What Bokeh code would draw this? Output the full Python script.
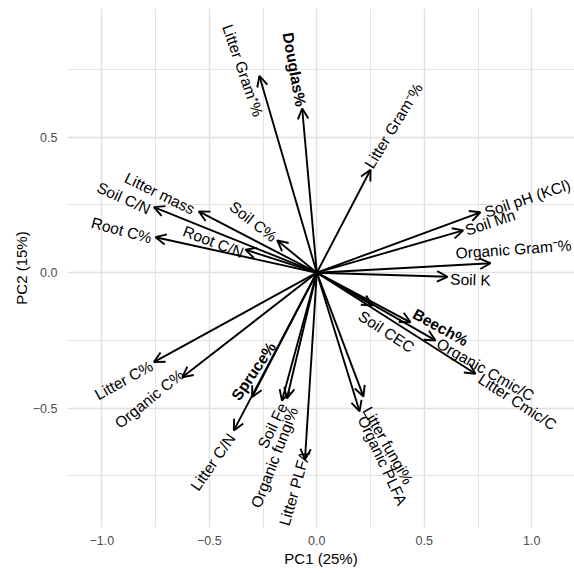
import numpy as np
from bokeh.plotting import figure
from bokeh.models import ColumnDataSource, Arrow, OpenHead, FixedTicker, CustomJSTickFormatter, Range1d
from bokeh.core.properties import value
from bokeh.embed import file_html
from bokeh.resources import INLINE

# ---------------- data (loadings) ----------------
variables = ["Litter Gram\u207a%", "Douglas%", "Litter Gram\u207b%", "Soil pH (KCl)", "Soil Mn",
             "Organic Gram\u207b%", "Soil K", "Litter mass", "Soil C/N", "Root C%", "Root C/N",
             "Soil C%", "Litter C%", "Organic C%", "Spruce%", "Litter C/N", "Soil Fe",
             "Organic fungi%", "Litter PLFA", "Litter fungi%", "Organic PLFA", "Soil CEC",
             "Beech%", "Organic Cmic/C", "Litter Cmic/C"]
pc1 = [-0.267, -0.068, 0.250, 0.761, 0.681, 0.808, 0.608, -0.549, -0.758, -0.750, -0.332,
       -0.184, -0.758, -0.626, -0.301, -0.386, -0.162, -0.139, -0.055, 0.217, 0.199, 0.259,
       0.436, 0.552, 0.738]
pc2 = [0.726, 0.606, 0.380, 0.223, 0.156, 0.035, -0.015, 0.226, 0.242, 0.131, 0.085,
       0.119, -0.330, -0.386, -0.459, -0.582, -0.472, -0.464, -0.689, -0.457, -0.512, -0.121,
       -0.183, -0.250, -0.373]
species = ["Douglas%", "Spruce%", "Beech%"]

x_ticks = [-1.0, -0.5, 0.0, 0.5, 1.0]
x_tick_labels = ["\u22121.0", "\u22120.5", "0.0", "0.5", "1.0"]
x_minor = [-0.75, -0.25, 0.25, 0.75]
y_ticks = [-0.5, 0.0, 0.5]
y_tick_labels = ["\u22120.5", "0.0", "0.5"]
y_minor = [-0.75, -0.25, 0.25, 0.75]
x_title = "PC1 (25%)"
y_title = "PC2 (15%)"

# ---------------- layout (label nudges in screen px, text angle in degrees) ----------------
label_layout = {
    "Litter Gram\u207a%": (-16.5, -5.5, -71),
    "Douglas%": (-7.7, -39, -80),
    "Litter Gram\u207b%": (23, -44, 58.5),
    "Soil pH (KCl)": (47, -14, 18.5),
    "Soil Mn": (27, -8, 18),
    "Organic Gram\u207b%": (23, -14, 4),
    "Soil K": (23, 3, -2),
    "Litter mass": (-39, -18, -26),
    "Soil C/N": (-30, -9, -24),
    "Root C%": (-34, -7, -15),
    "Root C/N": (-32, -8, -21),
    "Soil C%": (-24, -19, -38),
    "Litter C%": (-30, 18, 29),
    "Organic C%": (-33, 21.5, 39),
    "Spruce%": (1.5, -26, 56),
    "Litter C/N": (-21, 31.5, 55),
    "Soil Fe": (-9.5, 25, 64),
    "Organic fungi%": (-12.5, 59, 69),
    "Litter PLFA": (-10.5, 29, 74),
    "Litter fungi%": (24.5, 49, -60.5),
    "Organic PLFA": (23, 49, -65),
    "Soil CEC": (14, 26, -33),
    "Beech%": (30, 5, -29),
    "Organic Cmic/C": (50, 29, -30),
    "Litter Cmic/C": (42, 28, -33),
}

LEFT, TOP, BOTTOM = 67, 8, 46
FW, FH = 574 - LEFT, 519
PX_X, PX_Y = 215.0, 271.0
X0 = -(316.3 - LEFT) / PX_X
X1 = X0 + FW / PX_X
Y1 = (272.2 - TOP) / PX_Y
Y0 = Y1 - FH / PX_Y

p = figure(frame_width=FW, frame_height=FH, output_backend="svg", toolbar_location=None,
           x_range=Range1d(X0, X1), y_range=Range1d(Y0, Y1),
           min_border_left=LEFT, min_border_right=0, min_border_top=TOP, min_border_bottom=BOTTOM)
p.outline_line_color = None
p.background_fill_color = "white"
p.border_fill_color = "white"

fmt_code = """
const i = tv.findIndex(t => Math.abs(t - tick) < 1e-9);
return i >= 0 ? tl[i] : '';
"""
p.xaxis.ticker = FixedTicker(ticks=x_ticks, minor_ticks=x_minor)
p.yaxis.ticker = FixedTicker(ticks=y_ticks, minor_ticks=y_minor)
p.xaxis.formatter = CustomJSTickFormatter(args=dict(tv=x_ticks, tl=x_tick_labels), code=fmt_code)
p.yaxis.formatter = CustomJSTickFormatter(args=dict(tv=y_ticks, tl=y_tick_labels), code=fmt_code)

for ax in (p.xaxis, p.yaxis):
    ax.axis_line_color = None
    ax.major_tick_line_color = None
    ax.minor_tick_line_color = None
    ax.major_label_text_font = "Liberation Sans"
    ax.major_label_text_font_size = "12.5px"
    ax.major_label_text_color = "#4d4d4d"
    ax.axis_label_text_font = "Liberation Sans"
    ax.axis_label_text_font_size = "15px"
    ax.axis_label_text_font_style = "normal"
    ax.axis_label_text_color = "black"
p.xaxis.major_label_standoff = 2
p.yaxis.major_label_standoff = 4
p.xaxis.axis_label = x_title
p.yaxis.axis_label = y_title
p.xaxis.axis_label_standoff = 2
p.yaxis.axis_label_standoff = 0

for g in (p.xgrid, p.ygrid):
    g.grid_line_color = "#e0e0e0"
    g.grid_line_width = 1.4
    g.minor_grid_line_color = "#e4e4e4"
    g.minor_grid_line_width = 1.0

# arrows
n = len(variables)
src_arrow = ColumnDataSource(dict(x0=[0.0] * n, y0=[0.0] * n, x1=pc1, y1=pc2))
p.add_layout(Arrow(end=OpenHead(size=10.5, line_width=1.9, line_color="black"),
                   x_start="x0", y_start="y0", x_end="x1", y_end="y1",
                   line_width=1.9, line_color="black", source=src_arrow))

# labels
def label_source(names):
    lx, ly, ang, txt = [], [], [], []
    for v, a, b in zip(variables, pc1, pc2):
        if v not in names:
            continue
        dx, dy, deg = label_layout[v]
        lx.append(a + dx / PX_X)
        ly.append(b - dy / PX_Y)
        ang.append(np.deg2rad(deg))
        txt.append(v)
    return ColumnDataSource(dict(x=lx, y=ly, angle=ang, text=txt))

normal_names = [v for v in variables if v not in species]
for names, style in ((normal_names, "normal"), (species, "bold")):
    p.text(x="x", y="y", text="text", angle="angle", source=label_source(names),
           text_align="center", text_baseline="middle",
           text_font=value("Liberation Sans"), text_font_size=value("15.5px"),
           text_font_style=style, text_color="black")

open("out.html", "w").write(file_html(p, INLINE))
